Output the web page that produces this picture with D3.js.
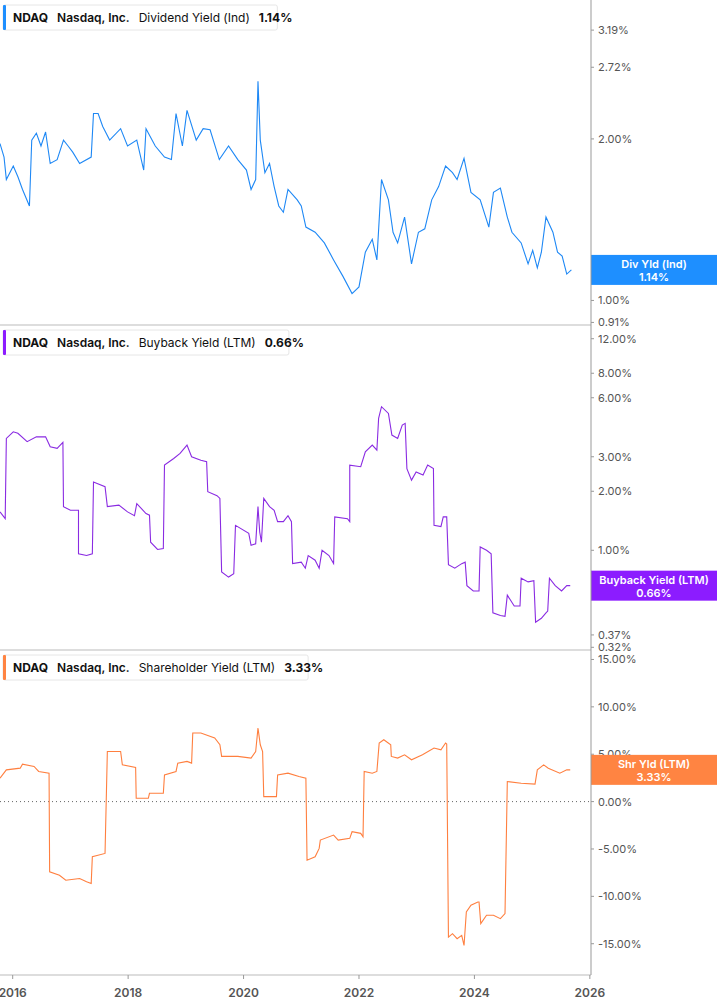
<!DOCTYPE html>
<html>
<head>
<meta charset="utf-8">
<script src="https://cdn.jsdelivr.net/npm/d3@7"></script>
<style>
  body { margin: 0; background: #fff; font-family: Inter, Roboto, sans-serif; }
  .tick-label { font-size: 11px; fill: #555; }
  .year { font-size: 12px; fill: #555; font-weight: 600; }
</style>
</head>
<body>
<svg id="chart"></svg>
<script>
// decimal year, value (%)
const divYield = [
  [2015.78,1.96],[2015.85,1.85],[2015.89,1.68],[2016.01,1.78],[2016.09,1.70],[2016.17,1.61],[2016.29,1.50],
  [2016.33,1.99],[2016.41,2.05],[2016.49,1.94],[2016.57,2.06],[2016.65,1.80],[2016.77,1.83],[2016.88,1.99],
  [2016.96,1.94],[2017.04,1.89],[2017.16,1.80],[2017.36,1.85],[2017.40,2.23],[2017.48,2.23],[2017.56,2.11],
  [2017.68,1.99],[2017.87,2.09],[2017.99,1.94],[2018.15,1.99],[2018.27,1.75],[2018.31,2.09],[2018.47,1.94],
  [2018.63,1.85],[2018.75,1.83],[2018.83,2.23],[2018.94,1.94],[2019.02,2.26],[2019.18,1.99],[2019.30,2.09],
  [2019.42,2.08],[2019.58,1.83],[2019.74,1.94],[2019.90,1.83],[2020.05,1.75],[2020.13,1.61],[2020.21,1.68],
  [2020.25,2.56],[2020.29,1.99],[2020.37,1.73],[2020.45,1.80],[2020.53,1.63],[2020.61,1.50],[2020.69,1.46],
  [2020.77,1.61],[2020.93,1.54],[2021.00,1.50],[2021.08,1.37],[2021.24,1.34],[2021.40,1.28],[2021.56,1.19],
  [2021.72,1.11],[2021.88,1.03],[2022.00,1.06],[2022.11,1.23],[2022.23,1.30],[2022.31,1.19],[2022.39,1.68],
  [2022.51,1.54],[2022.59,1.34],[2022.67,1.28],[2022.79,1.43],[2022.91,1.17],[2023.03,1.34],[2023.14,1.36],
  [2023.26,1.54],[2023.38,1.63],[2023.50,1.78],[2023.62,1.73],[2023.70,1.68],[2023.82,1.84],[2023.94,1.59],
  [2024.10,1.54],[2024.25,1.37],[2024.33,1.59],[2024.45,1.62],[2024.57,1.43],[2024.65,1.34],[2024.81,1.28],
  [2024.93,1.17],[2025.01,1.24],[2025.09,1.15],[2025.16,1.23],[2025.24,1.43],[2025.36,1.34],[2025.44,1.23],
  [2025.52,1.21],[2025.60,1.12],[2025.68,1.14]
];
const buybackYield = [
  [2015.78,1.57],[2015.87,1.45],[2015.89,3.72],[2016.01,4.02],[2016.09,3.95],[2016.25,3.58],[2016.41,3.79],
  [2016.57,3.79],[2016.65,3.37],[2016.77,3.31],[2016.87,3.55],[2016.88,1.67],[2017.00,1.60],[2017.14,1.60],
  [2017.14,0.96],[2017.28,0.94],[2017.38,0.96],[2017.40,2.23],[2017.60,2.11],[2017.64,1.67],[2017.84,1.70],
  [2017.99,1.57],[2018.11,1.50],[2018.15,1.73],[2018.31,1.54],[2018.37,1.51],[2018.39,1.10],[2018.51,1.01],
  [2018.61,1.02],[2018.63,2.72],[2018.79,2.94],[2018.90,3.12],[2019.02,3.44],[2019.10,3.00],[2019.26,2.88],
  [2019.36,2.83],[2019.38,1.99],[2019.54,1.90],[2019.59,1.84],[2019.62,0.775],[2019.74,0.73],[2019.83,0.76],
  [2019.86,1.34],[2020.09,1.22],[2020.13,1.06],[2020.21,1.08],[2020.25,1.67],[2020.28,1.24],[2020.31,1.10],
  [2020.35,1.84],[2020.45,1.67],[2020.53,1.60],[2020.59,1.40],[2020.69,1.40],[2020.77,1.50],[2020.83,1.40],
  [2020.85,0.855],[2021.00,0.87],[2021.07,0.81],[2021.12,0.94],[2021.24,0.89],[2021.31,0.81],[2021.36,1.00],
  [2021.48,0.94],[2021.56,0.855],[2021.58,1.48],[2021.80,1.45],[2021.84,1.40],[2021.84,2.72],[2022.03,2.67],
  [2022.11,3.18],[2022.23,3.44],[2022.31,3.24],[2022.34,4.71],[2022.39,5.40],[2022.51,4.99],[2022.57,3.87],
  [2022.67,3.72],[2022.75,4.35],[2022.80,4.44],[2022.83,2.61],[2022.91,2.28],[2022.99,2.51],[2023.11,2.42],
  [2023.19,2.72],[2023.29,2.61],[2023.30,1.34],[2023.42,1.32],[2023.46,1.48],[2023.52,1.48],[2023.55,0.845],
  [2023.66,0.81],[2023.78,0.855],[2023.84,0.87],[2023.87,0.66],[2023.98,0.62],[2024.08,0.62],[2024.10,1.04],
  [2024.21,1.00],[2024.29,0.96],[2024.32,0.48],[2024.45,0.465],[2024.53,0.46],[2024.57,0.59],[2024.69,0.52],
  [2024.79,0.52],[2024.81,0.72],[2024.93,0.69],[2025.03,0.70],[2025.06,0.43],[2025.16,0.45],[2025.24,0.48],
  [2025.27,0.49],[2025.30,0.72],[2025.40,0.66],[2025.51,0.62],[2025.60,0.66],[2025.66,0.66]
];
const shareholderYield = [
  [2015.78,2.47],[2015.89,3.35],[2016.13,3.53],[2016.17,3.95],[2016.37,3.71],[2016.45,3.18],[2016.63,3.00],
  [2016.64,-7.41],[2016.81,-7.77],[2016.92,-8.30],[2017.16,-8.12],[2017.28,-8.47],[2017.36,-8.65],[2017.38,-5.82],
  [2017.60,-5.47],[2017.64,5.29],[2017.87,5.29],[2017.90,3.88],[2018.13,3.60],[2018.14,0.35],[2018.35,0.35],
  [2018.37,0.88],[2018.61,0.88],[2018.63,2.82],[2018.83,3.18],[2018.86,4.06],[2019.02,4.24],[2019.10,4.06],
  [2019.12,7.24],[2019.26,7.24],[2019.50,6.71],[2019.59,6.00],[2019.62,4.77],[2019.90,4.77],[2020.13,4.59],
  [2020.21,5.29],[2020.25,7.77],[2020.29,6.00],[2020.33,5.29],[2020.35,0.53],[2020.57,0.53],[2020.59,2.82],
  [2020.77,3.00],[2020.96,2.65],[2021.08,2.47],[2021.10,-6.18],[2021.24,-5.82],[2021.31,-4.94],[2021.33,-4.06],
  [2021.56,-3.53],[2021.64,-4.06],[2021.84,-3.88],[2021.88,-3.18],[2022.03,-3.35],[2022.07,-3.71],[2022.09,3.18],
  [2022.23,3.00],[2022.31,3.18],[2022.35,6.18],[2022.43,6.53],[2022.55,6.00],[2022.56,4.77],[2022.67,4.59],
  [2022.79,4.94],[2022.91,4.41],[2023.10,4.94],[2023.30,5.65],[2023.42,5.47],[2023.50,6.18],[2023.52,6.07],
  [2023.55,-14.30],[2023.62,-13.94],[2023.70,-14.47],[2023.78,-14.12],[2023.82,-15.18],[2023.86,-11.65],
  [2023.94,-10.94],[2024.06,-10.59],[2024.08,-10.59],[2024.11,-12.88],[2024.21,-12.00],[2024.33,-12.00],
  [2024.45,-12.35],[2024.53,-11.82],[2024.57,2.12],[2024.81,1.94],[2025.05,1.84],[2025.09,3.35],[2025.20,3.88],
  [2025.28,3.53],[2025.48,3.00],[2025.60,3.35],[2025.66,3.35]
];
const divTicks = [0.91, 1.00, 2.00, 2.72, 3.19];
const buyTicks = [0.32, 0.37, 1.00, 2.00, 3.00, 6.00, 8.00, 12.00];
const shrTicks = [-15, -10, -5, 0, 5, 10, 15];
const yearTicks = [2016, 2018, 2020, 2022, 2024, 2026];

const W = 717, H = 1005, plotR = 591, panelH = 325;
const svg = d3.select('#chart').attr('width', W).attr('height', H);

const x = d3.scaleLinear().domain([2015.78, 2026.02]).range([0, plotR]);

const panels = [
  { data: divYield, ticks: divTicks, color: '#1e88f5', badge: '#1e8fff',
    y: d3.scaleLog().domain([0.90, 3.63]).range([panelH, 0]),
    title: 'Dividend Yield (Ind)', last: '1.14%', badgeName: 'Div Yld (Ind)' },
  { data: buybackYield, ticks: buyTicks, color: '#8a2be2', badge: '#8c1cff',
    y: d3.scaleLog().domain([0.31, 14.1]).range([panelH, 0]),
    title: 'Buyback Yield (LTM)', last: '0.66%', badgeName: 'Buyback Yield (LTM)' },
  { data: shareholderYield, ticks: shrTicks, color: '#ff7f3f', badge: '#ff8442',
    y: d3.scaleLinear().domain([-18.3, 16]).range([panelH, 0]),
    title: 'Shareholder Yield (LTM)', last: '3.33%', badgeName: 'Shr Yld (LTM)' }
];

panels.forEach((p, i) => {
  const g = svg.append('g').attr('transform', `translate(0,${i * panelH})`);

  if (p.y.domain()[0] < 0) {
    g.append('line').attr('x1', 0).attr('x2', plotR)
      .attr('y1', p.y(0)).attr('y2', p.y(0))
      .attr('stroke', '#666').attr('stroke-dasharray', '1,3');
  }

  g.append('path').datum(p.data)
    .attr('fill', 'none').attr('stroke', p.color).attr('stroke-width', 1.1)
    .attr('d', d3.line().x(d => x(d[0])).y(d => p.y(d[1])));

  // right axis ticks
  p.ticks.forEach(t => {
    const yy = p.y(t);
    g.append('line').attr('x1', plotR).attr('x2', plotR + 3).attr('y1', yy).attr('y2', yy).attr('stroke', '#999');
    g.append('text').attr('class', 'tick-label').attr('x', plotR + 7).attr('y', yy + 4)
      .text(t.toFixed(2) + '%');
  });

  // bottom border of panel
  g.append('line').attr('x1', 0).attr('x2', plotR).attr('y1', panelH).attr('y2', panelH)
    .attr('stroke', '#bbb');

  // value badge
  const lastVal = p.data[p.data.length - 1][1];
  const by = p.y(lastVal);
  g.append('rect').attr('x', plotR).attr('y', by - 15).attr('width', W - plotR).attr('height', 30)
    .attr('fill', p.badge);
  g.append('text').attr('x', (plotR + W) / 2).attr('y', by - 2).attr('text-anchor', 'middle')
    .attr('fill', '#fff').attr('font-size', 11).attr('font-weight', 600).text(p.badgeName);
  g.append('text').attr('x', (plotR + W) / 2).attr('y', by + 11).attr('text-anchor', 'middle')
    .attr('fill', '#fff').attr('font-size', 11).attr('font-weight', 600).text(p.last);

  // legend
  const lg = g.append('g').attr('transform', 'translate(3,5)');
  const box = lg.append('rect').attr('height', 25).attr('rx', 2)
    .attr('fill', '#fff').attr('stroke', '#e6e6e6');
  lg.append('rect').attr('width', 3).attr('height', 25).attr('fill', p.badge).attr('rx', 1);
  const txt = lg.append('text').attr('x', 10).attr('y', 17).attr('font-size', 12).attr('fill', '#111');
  txt.append('tspan').attr('font-weight', 700).text('NDAQ');
  txt.append('tspan').attr('dx', 9).attr('font-weight', 600).text('Nasdaq, Inc.');
  txt.append('tspan').attr('dx', 9).text(p.title);
  txt.append('tspan').attr('dx', 9).attr('font-weight', 700).text(p.last);
  box.attr('width', txt.node().getComputedTextLength() + 22);
});

// vertical axis line
svg.append('line').attr('x1', plotR).attr('x2', plotR).attr('y1', 0).attr('y2', 3 * panelH)
  .attr('stroke', '#999');

// x axis
yearTicks.forEach(yr => {
  svg.append('line').attr('x1', x(yr)).attr('x2', x(yr)).attr('y1', 3 * panelH).attr('y2', 3 * panelH + 4)
    .attr('stroke', '#999');
  svg.append('text').attr('class', 'year').attr('x', x(yr)).attr('y', 3 * panelH + 22)
    .attr('text-anchor', 'middle').text(yr);
});
</script>
</body>
</html>
